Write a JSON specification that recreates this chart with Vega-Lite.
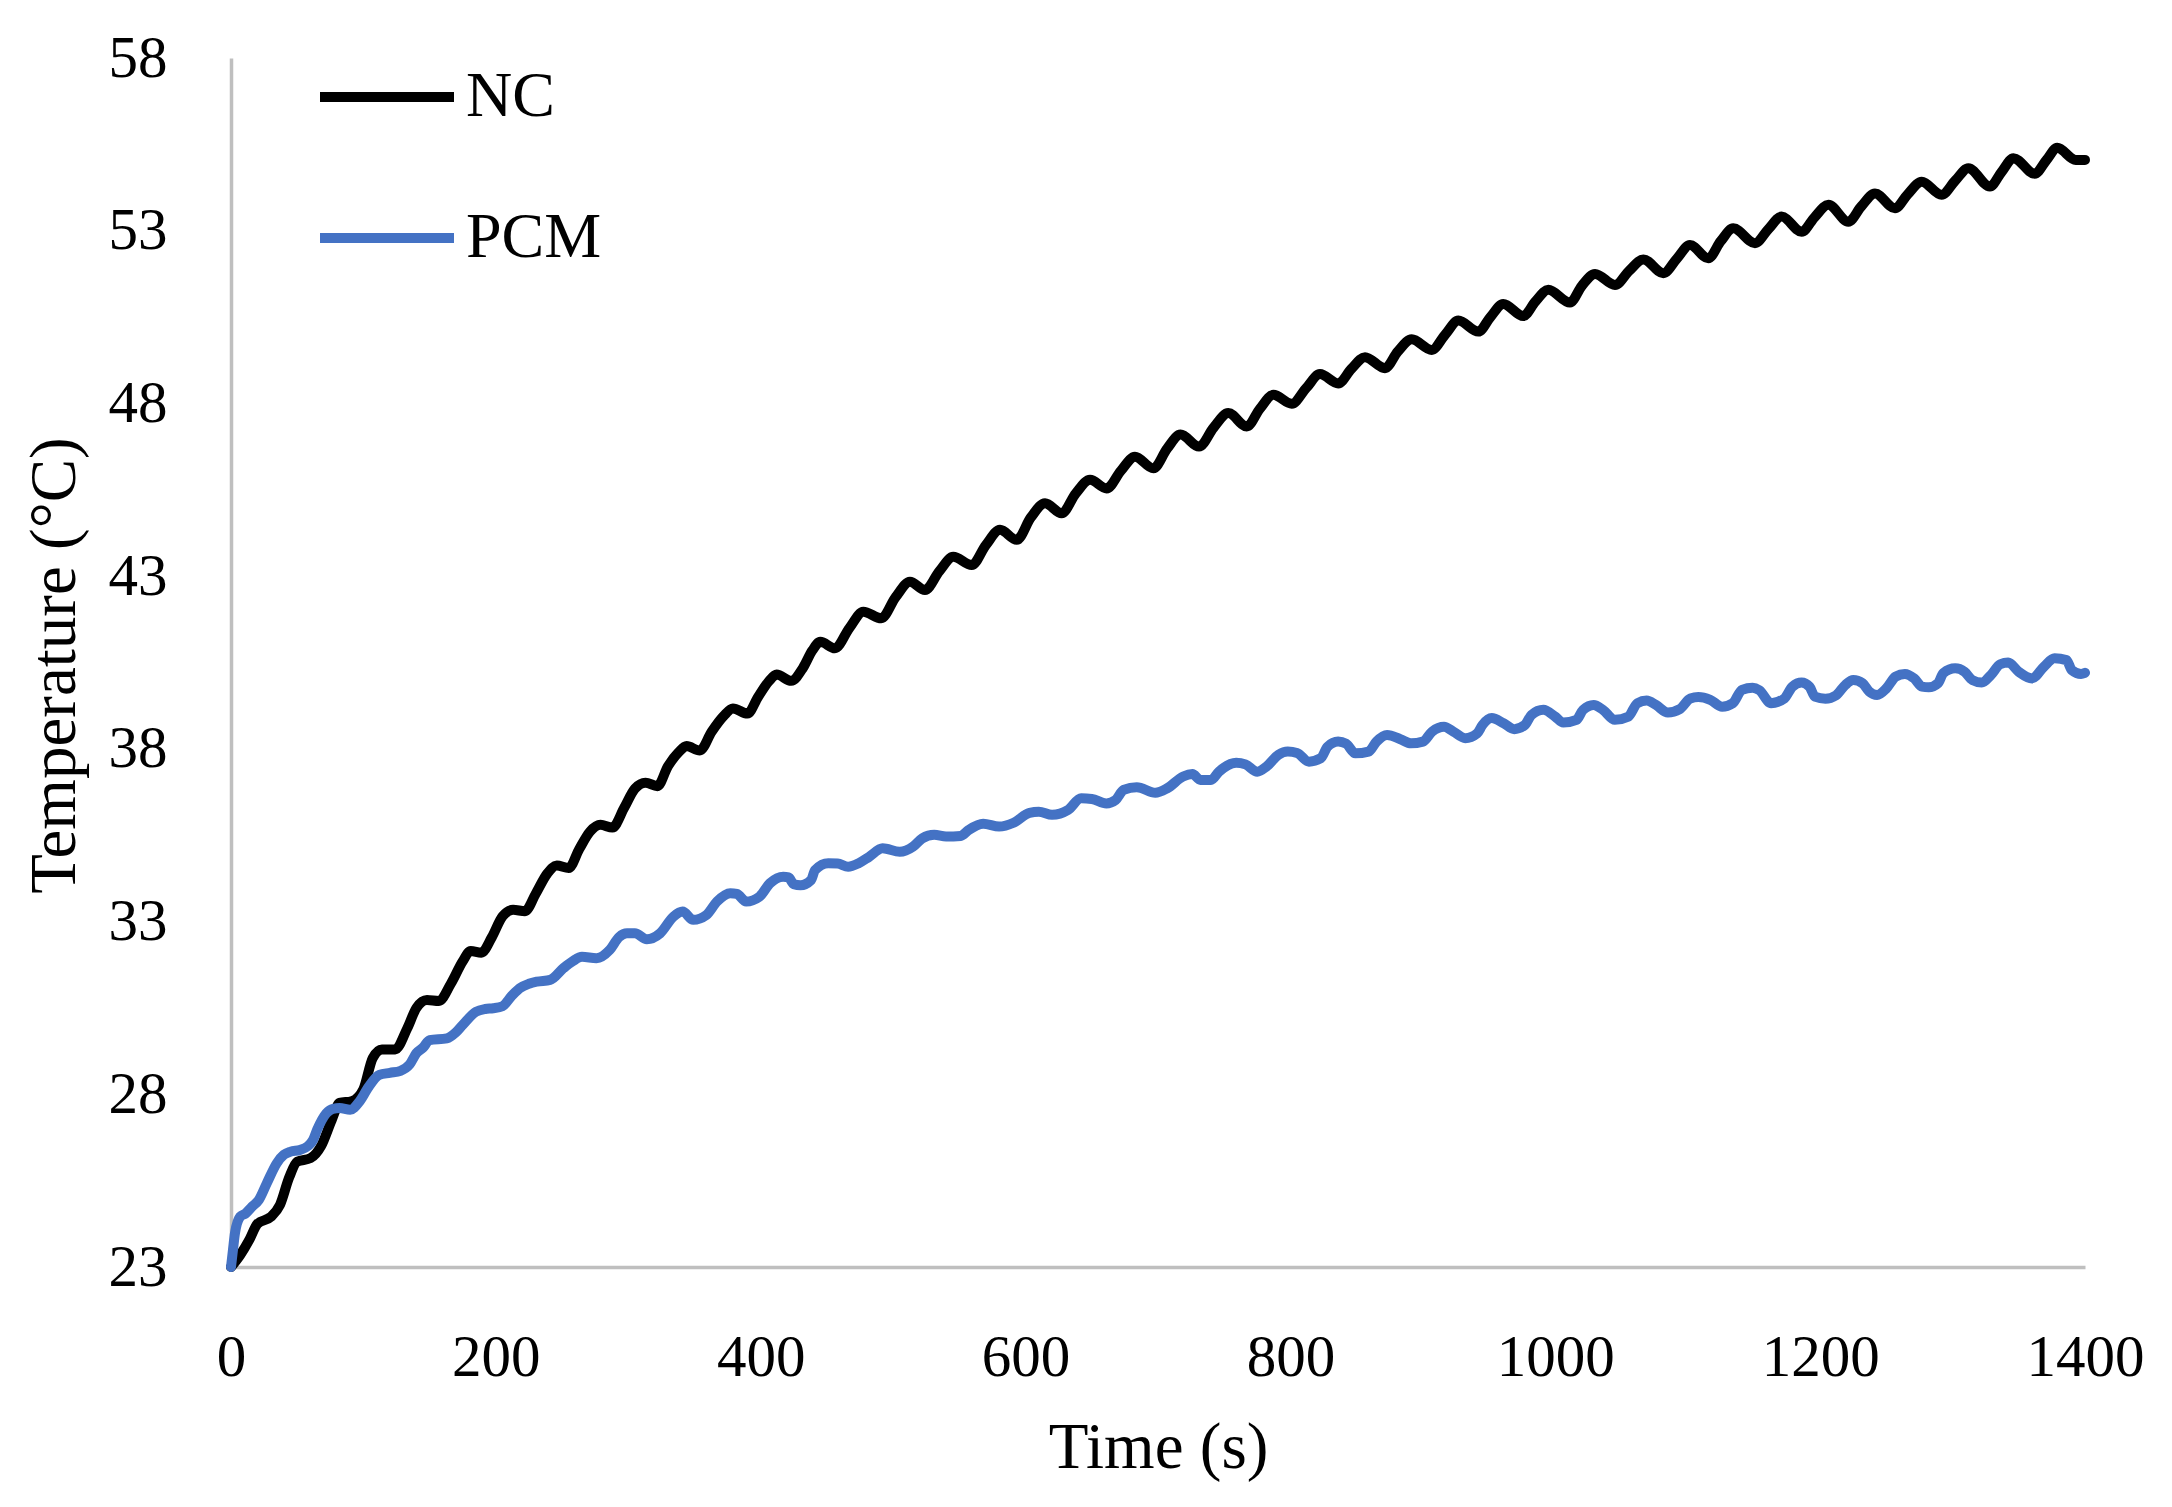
{
  "$schema": "https://vega.github.io/schema/vega-lite/v6.json",
  "width": 1854,
  "height": 1209,
  "autosize": "none",
  "padding": {"left": 231, "top": 58, "right": 87, "bottom": 240},
  "background": "white",
  "config": {
    "view": {"stroke": null},
    "font": "Liberation Serif"
  },
  "data": {
    "values": [
      {"series":"NC","time":0,"temp":23.0},{"series":"NC","time":7,"temp":23.35},{"series":"NC","time":14,"temp":23.8},{"series":"NC","time":20,"temp":24.25},{"series":"NC","time":30,"temp":24.45},{"series":"NC","time":37,"temp":24.8},{"series":"NC","time":44,"temp":25.6},{"series":"NC","time":50,"temp":26.05},{"series":"NC","time":60,"temp":26.15},{"series":"NC","time":68,"temp":26.5},{"series":"NC","time":76,"temp":27.25},{"series":"NC","time":82,"temp":27.75},{"series":"NC","time":91,"temp":27.8},{"series":"NC","time":100,"temp":28.15},{"series":"NC","time":107,"temp":29.05},{"series":"NC","time":114,"temp":29.3},{"series":"NC","time":124,"temp":29.3},{"series":"NC","time":133,"temp":29.9},{"series":"NC","time":140,"temp":30.5},{"series":"NC","time":148,"temp":30.73},{"series":"NC","time":157,"temp":30.7},{"series":"NC","time":166,"temp":31.2},{"series":"NC","time":175,"temp":31.85},{"series":"NC","time":181,"temp":32.15},{"series":"NC","time":189,"temp":32.1},{"series":"NC","time":197,"temp":32.55},{"series":"NC","time":205,"temp":33.15},{"series":"NC","time":213,"temp":33.34},{"series":"NC","time":222,"temp":33.3},{"series":"NC","time":230,"temp":33.8},{"series":"NC","time":239,"temp":34.4},{"series":"NC","time":246,"temp":34.62},{"series":"NC","time":255,"temp":34.55},{"series":"NC","time":263,"temp":35.1},{"series":"NC","time":271,"temp":35.6},{"series":"NC","time":279,"temp":35.8},{"series":"NC","time":288,"temp":35.72},{"series":"NC","time":297,"temp":36.3},{"series":"NC","time":305,"temp":36.85},{"series":"NC","time":313,"temp":37.02},{"series":"NC","time":322,"temp":36.92},{"series":"NC","time":330,"temp":37.5},{"series":"NC","time":338,"temp":37.9},{"series":"NC","time":344,"temp":38.08},{"series":"NC","time":354,"temp":37.95},{"series":"NC","time":363,"temp":38.5},{"series":"NC","time":372,"temp":38.95},{"series":"NC","time":379,"temp":39.17},{"series":"NC","time":390,"temp":39.02},{"series":"NC","time":398,"temp":39.5},{"series":"NC","time":406,"temp":39.95},{"series":"NC","time":412,"temp":40.15},{"series":"NC","time":423,"temp":39.97},{"series":"NC","time":432,"temp":40.35},{"series":"NC","time":439,"temp":40.85},{"series":"NC","time":445,"temp":41.1},{"series":"NC","time":456,"temp":40.91},{"series":"NC","time":467,"temp":41.5},{"series":"NC","time":477.5,"temp":41.97},{"series":"NC","time":491,"temp":41.78},{"series":"NC","time":502,"temp":42.4},{"series":"NC","time":512.7,"temp":42.84},{"series":"NC","time":524,"temp":42.6},{"series":"NC","time":535,"temp":43.15},{"series":"NC","time":545.4,"temp":43.56},{"series":"NC","time":559.3,"temp":43.32},{"series":"NC","time":570,"temp":43.9},{"series":"NC","time":580.7,"temp":44.34},{"series":"NC","time":593.3,"temp":44.05},{"series":"NC","time":604,"temp":44.7},{"series":"NC","time":614.7,"temp":45.11},{"series":"NC","time":627.2,"temp":44.82},{"series":"NC","time":638,"temp":45.4},{"series":"NC","time":648.7,"temp":45.79},{"series":"NC","time":661.2,"temp":45.54},{"series":"NC","time":672,"temp":46.05},{"series":"NC","time":682.6,"temp":46.46},{"series":"NC","time":696.5,"temp":46.12},{"series":"NC","time":707,"temp":46.7},{"series":"NC","time":717,"temp":47.1},{"series":"NC","time":731,"temp":46.75},{"series":"NC","time":742,"temp":47.3},{"series":"NC","time":753.1,"temp":47.72},{"series":"NC","time":767,"temp":47.33},{"series":"NC","time":777,"temp":47.85},{"series":"NC","time":787.1,"temp":48.25},{"series":"NC","time":801,"temp":47.99},{"series":"NC","time":812,"temp":48.45},{"series":"NC","time":822.3,"temp":48.85},{"series":"NC","time":836.1,"temp":48.58},{"series":"NC","time":846,"temp":49.0},{"series":"NC","time":856.3,"temp":49.34},{"series":"NC","time":871.4,"temp":49.02},{"series":"NC","time":881,"temp":49.5},{"series":"NC","time":891.6,"temp":49.86},{"series":"NC","time":906.7,"temp":49.55},{"series":"NC","time":917,"temp":50.0},{"series":"NC","time":926.8,"temp":50.4},{"series":"NC","time":941.9,"temp":50.08},{"series":"NC","time":951,"temp":50.5},{"series":"NC","time":960.7,"temp":50.88},{"series":"NC","time":975.8,"temp":50.53},{"series":"NC","time":985,"temp":50.95},{"series":"NC","time":994.7,"temp":51.29},{"series":"NC","time":1011.1,"temp":50.92},{"series":"NC","time":1020,"temp":51.4},{"series":"NC","time":1030,"temp":51.75},{"series":"NC","time":1045.1,"temp":51.43},{"series":"NC","time":1056,"temp":51.85},{"series":"NC","time":1066.5,"temp":52.17},{"series":"NC","time":1081.6,"temp":51.77},{"series":"NC","time":1092,"temp":52.2},{"series":"NC","time":1101.7,"temp":52.59},{"series":"NC","time":1115.5,"temp":52.2},{"series":"NC","time":1125,"temp":52.7},{"series":"NC","time":1134.4,"temp":53.07},{"series":"NC","time":1150.8,"temp":52.64},{"series":"NC","time":1161,"temp":53.05},{"series":"NC","time":1170.9,"temp":53.41},{"series":"NC","time":1186,"temp":52.97},{"series":"NC","time":1196,"temp":53.4},{"series":"NC","time":1206.2,"temp":53.75},{"series":"NC","time":1221.3,"temp":53.26},{"series":"NC","time":1231,"temp":53.7},{"series":"NC","time":1241.4,"temp":54.08},{"series":"NC","time":1256.5,"temp":53.65},{"series":"NC","time":1266,"temp":54.05},{"series":"NC","time":1276.7,"temp":54.42},{"series":"NC","time":1291.7,"temp":54.04},{"series":"NC","time":1302,"temp":54.45},{"series":"NC","time":1311.9,"temp":54.81},{"series":"NC","time":1328.2,"temp":54.28},{"series":"NC","time":1337,"temp":54.7},{"series":"NC","time":1346,"temp":55.1},{"series":"NC","time":1362,"temp":54.65},{"series":"NC","time":1371,"temp":55.05},{"series":"NC","time":1379,"temp":55.4},{"series":"NC","time":1393,"temp":55.05},{"series":"NC","time":1400,"temp":55.05},
      {"series":"PCM","time":0,"temp":23.0},{"series":"PCM","time":1.5,"temp":23.5},{"series":"PCM","time":3,"temp":23.98},{"series":"PCM","time":7,"temp":24.46},{"series":"PCM","time":11,"temp":24.55},{"series":"PCM","time":16,"temp":24.75},{"series":"PCM","time":21,"temp":24.94},{"series":"PCM","time":27,"temp":25.42},{"series":"PCM","time":34.5,"temp":26.0},{"series":"PCM","time":40,"temp":26.25},{"series":"PCM","time":45,"temp":26.34},{"series":"PCM","time":52,"temp":26.39},{"series":"PCM","time":58,"temp":26.5},{"series":"PCM","time":62,"temp":26.68},{"series":"PCM","time":65,"temp":26.97},{"series":"PCM","time":72,"temp":27.45},{"series":"PCM","time":77,"temp":27.58},{"series":"PCM","time":82,"temp":27.6},{"series":"PCM","time":90,"temp":27.55},{"series":"PCM","time":97,"temp":27.79},{"series":"PCM","time":104,"temp":28.22},{"series":"PCM","time":112,"temp":28.56},{"series":"PCM","time":120,"temp":28.62},{"series":"PCM","time":128,"temp":28.68},{"series":"PCM","time":135,"temp":28.87},{"series":"PCM","time":140,"temp":29.19},{"series":"PCM","time":145,"temp":29.35},{"series":"PCM","time":150,"temp":29.57},{"series":"PCM","time":163,"temp":29.62},{"series":"PCM","time":170,"temp":29.8},{"series":"PCM","time":175,"temp":30.01},{"series":"PCM","time":185,"temp":30.39},{"series":"PCM","time":192,"temp":30.47},{"series":"PCM","time":198,"temp":30.49},{"series":"PCM","time":205,"temp":30.55},{"series":"PCM","time":212,"temp":30.85},{"series":"PCM","time":218,"temp":31.07},{"series":"PCM","time":225,"temp":31.2},{"series":"PCM","time":231,"temp":31.26},{"series":"PCM","time":241,"temp":31.31},{"series":"PCM","time":251,"temp":31.65},{"series":"PCM","time":258,"temp":31.85},{"series":"PCM","time":265,"temp":31.98},{"series":"PCM","time":276,"temp":31.94},{"series":"PCM","time":286,"temp":32.18},{"series":"PCM","time":293,"temp":32.55},{"series":"PCM","time":299,"temp":32.66},{"series":"PCM","time":305,"temp":32.66},{"series":"PCM","time":314,"temp":32.49},{"series":"PCM","time":324,"temp":32.66},{"series":"PCM","time":334,"temp":33.14},{"series":"PCM","time":341,"temp":33.29},{"series":"PCM","time":349,"temp":33.05},{"series":"PCM","time":359,"temp":33.19},{"series":"PCM","time":367,"temp":33.58},{"series":"PCM","time":377,"temp":33.82},{"series":"PCM","time":382,"temp":33.8},{"series":"PCM","time":389,"temp":33.58},{"series":"PCM","time":399,"temp":33.72},{"series":"PCM","time":407,"temp":34.11},{"series":"PCM","time":417,"temp":34.3},{"series":"PCM","time":421,"temp":34.28},{"series":"PCM","time":425,"temp":34.08},{"series":"PCM","time":430,"temp":34.05},{"series":"PCM","time":438,"temp":34.2},{"series":"PCM","time":441,"temp":34.49},{"series":"PCM","time":451,"temp":34.69},{"series":"PCM","time":458,"temp":34.68},{"series":"PCM","time":466,"temp":34.59},{"series":"PCM","time":474,"temp":34.69},{"series":"PCM","time":482,"temp":34.88},{"series":"PCM","time":492,"temp":35.12},{"series":"PCM","time":505,"temp":35.02},{"series":"PCM","time":515,"temp":35.17},{"series":"PCM","time":522,"temp":35.41},{"series":"PCM","time":531,"temp":35.51},{"series":"PCM","time":540,"temp":35.46},{"series":"PCM","time":551,"temp":35.48},{"series":"PCM","time":557,"temp":35.65},{"series":"PCM","time":568,"temp":35.83},{"series":"PCM","time":580,"temp":35.75},{"series":"PCM","time":591,"temp":35.86},{"series":"PCM","time":603,"temp":36.15},{"series":"PCM","time":610,"temp":36.18},{"series":"PCM","time":620,"temp":36.09},{"series":"PCM","time":632,"temp":36.23},{"series":"PCM","time":642,"temp":36.57},{"series":"PCM","time":650,"temp":36.55},{"series":"PCM","time":661,"temp":36.42},{"series":"PCM","time":668,"temp":36.52},{"series":"PCM","time":674,"temp":36.81},{"series":"PCM","time":684,"temp":36.89},{"series":"PCM","time":698,"temp":36.73},{"series":"PCM","time":707,"temp":36.86},{"series":"PCM","time":719,"temp":37.2},{"series":"PCM","time":726,"temp":37.27},{"series":"PCM","time":732,"temp":37.1},{"series":"PCM","time":740,"temp":37.1},{"series":"PCM","time":746,"temp":37.34},{"series":"PCM","time":759,"temp":37.6},{"series":"PCM","time":766,"temp":37.55},{"series":"PCM","time":775,"temp":37.34},{"series":"PCM","time":782,"temp":37.49},{"series":"PCM","time":791,"temp":37.83},{"series":"PCM","time":798,"temp":37.92},{"series":"PCM","time":805,"temp":37.88},{"series":"PCM","time":814,"temp":37.63},{"series":"PCM","time":823,"temp":37.73},{"series":"PCM","time":828,"temp":38.06},{"series":"PCM","time":836,"temp":38.21},{"series":"PCM","time":842,"temp":38.15},{"series":"PCM","time":849,"temp":37.87},{"series":"PCM","time":859,"temp":37.92},{"series":"PCM","time":865,"temp":38.21},{"series":"PCM","time":873,"temp":38.4},{"series":"PCM","time":883,"temp":38.28},{"series":"PCM","time":891,"temp":38.16},{"series":"PCM","time":900,"temp":38.21},{"series":"PCM","time":907,"temp":38.5},{"series":"PCM","time":916,"temp":38.64},{"series":"PCM","time":923,"temp":38.5},{"series":"PCM","time":932,"temp":38.31},{"series":"PCM","time":941,"temp":38.45},{"series":"PCM","time":945,"temp":38.69},{"series":"PCM","time":952,"temp":38.89},{"series":"PCM","time":961,"temp":38.74},{"series":"PCM","time":969,"temp":38.57},{"series":"PCM","time":977,"temp":38.69},{"series":"PCM","time":982,"temp":38.98},{"series":"PCM","time":991,"temp":39.13},{"series":"PCM","time":1000,"temp":38.93},{"series":"PCM","time":1006,"temp":38.76},{"series":"PCM","time":1016,"temp":38.84},{"series":"PCM","time":1021,"temp":39.13},{"series":"PCM","time":1029,"temp":39.27},{"series":"PCM","time":1036,"temp":39.13},{"series":"PCM","time":1045,"temp":38.84},{"series":"PCM","time":1055,"temp":38.93},{"series":"PCM","time":1062,"temp":39.32},{"series":"PCM","time":1069,"temp":39.4},{"series":"PCM","time":1076,"temp":39.27},{"series":"PCM","time":1085,"temp":39.05},{"series":"PCM","time":1094,"temp":39.15},{"series":"PCM","time":1102,"temp":39.46},{"series":"PCM","time":1108,"temp":39.5},{"series":"PCM","time":1117,"temp":39.42},{"series":"PCM","time":1126,"temp":39.22},{"series":"PCM","time":1134,"temp":39.32},{"series":"PCM","time":1141,"temp":39.71},{"series":"PCM","time":1149,"temp":39.77},{"series":"PCM","time":1154,"temp":39.7},{"series":"PCM","time":1163,"temp":39.32},{"series":"PCM","time":1173,"temp":39.46},{"series":"PCM","time":1179,"temp":39.8},{"series":"PCM","time":1186,"temp":39.92},{"series":"PCM","time":1192,"temp":39.8},{"series":"PCM","time":1196,"temp":39.51},{"series":"PCM","time":1204,"temp":39.45},{"series":"PCM","time":1212,"temp":39.55},{"series":"PCM","time":1219,"temp":39.85},{"series":"PCM","time":1225,"temp":39.99},{"series":"PCM","time":1232,"temp":39.9},{"series":"PCM","time":1237,"temp":39.66},{"series":"PCM","time":1243,"temp":39.56},{"series":"PCM","time":1250,"temp":39.75},{"series":"PCM","time":1257,"temp":40.09},{"series":"PCM","time":1264,"temp":40.17},{"series":"PCM","time":1271,"temp":40.04},{"series":"PCM","time":1277,"temp":39.8},{"series":"PCM","time":1282,"temp":39.78},{"series":"PCM","time":1289,"temp":39.9},{"series":"PCM","time":1293,"temp":40.19},{"series":"PCM","time":1302,"temp":40.33},{"series":"PCM","time":1309,"temp":40.23},{"series":"PCM","time":1315,"temp":39.99},{"series":"PCM","time":1322,"temp":39.92},{"series":"PCM","time":1329,"temp":40.14},{"series":"PCM","time":1336,"temp":40.45},{"series":"PCM","time":1342,"temp":40.5},{"series":"PCM","time":1350,"temp":40.23},{"series":"PCM","time":1360,"temp":40.04},{"series":"PCM","time":1369,"temp":40.38},{"series":"PCM","time":1377,"temp":40.62},{"series":"PCM","time":1386,"temp":40.57},{"series":"PCM","time":1390,"temp":40.28},{"series":"PCM","time":1397,"temp":40.17},{"series":"PCM","time":1400,"temp":40.2}
    ]
  },
  "mark": {"type": "line", "strokeWidth": 10, "interpolate": "monotone", "strokeCap": "round", "strokeJoin": "round"},
  "encoding": {
    "x": {
      "field": "time", "type": "quantitative",
      "scale": {"domain": [0, 1400], "nice": false, "zero": false},
      "axis": {
        "values": [0, 200, 400, 600, 800, 1000, 1200, 1400], "format": "d",
        "grid": false, "ticks": false, "tickSize": 0,
        "domainColor": "#bfbfbf", "domainWidth": 3.5,
        "labelFont": "Liberation Serif", "labelFontSize": 59, "labelColor": "#000000",
        "labelBaseline": "alphabetic", "labelPadding": 108, "labelFlush": false, "labelOverlap": false,
        "title": "Time (s)", "titleFont": "Liberation Serif", "titleFontSize": 65, "titleFontWeight": "normal", "titleColor": "#000000",
        "titleBaseline": "alphabetic", "titleY": 200, "titleX": 927, "titleAlign": "center"
      }
    },
    "y": {
      "field": "temp", "type": "quantitative",
      "scale": {"domain": [23, 58], "nice": false, "zero": false},
      "axis": {
        "values": [23, 28, 33, 38, 43, 48, 53, 58],
        "grid": false, "ticks": false, "tickSize": 0,
        "domainColor": "#bfbfbf", "domainWidth": 3.5,
        "labelFont": "Liberation Serif", "labelFontSize": 59, "labelColor": "#000000",
        "labelPadding": 64, "labelFlush": false, "labelOverlap": false,
        "title": "Temperature (°C)", "titleFont": "Liberation Serif", "titleFontSize": 65, "titleFontWeight": "normal", "titleColor": "#000000",
        "titleAngle": -90, "titleBaseline": "bottom", "titleX": -143, "titleY": 607, "titleAlign": "center"
      }
    },
    "color": {
      "field": "series", "type": "nominal",
      "scale": {"domain": ["NC", "PCM"], "range": ["#000000", "#4472C4"]},
      "legend": {
        "orient": "none", "legendX": 84, "legendY": -33, "padding": 0,
        "title": null, "symbolType": "stroke", "symbolSize": 17956, "symbolStrokeWidth": 10,
        "rowPadding": 37, "labelOffset": 7,
        "labelFont": "Liberation Serif", "labelFontSize": 64, "labelColor": "#000000"
      }
    }
  }
}
